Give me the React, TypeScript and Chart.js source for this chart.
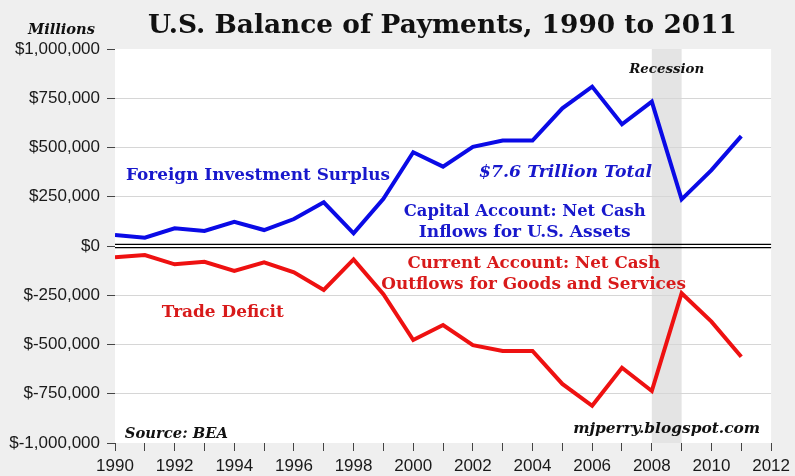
import React, { useEffect, useRef } from "react";
import { Chart, registerables } from "chart.js";

Chart.register(...registerables);

const years = [1990, 1991, 1992, 1993, 1994, 1995, 1996, 1997, 1998, 1999, 2000, 2001, 2002, 2003, 2004, 2005, 2006, 2007, 2008, 2009, 2010, 2011];
const capitalAccount = [56000, 42000, 90000, 76000, 123000, 81000, 137000, 222000, 64000, 240000, 476000, 403000, 503000, 535000, 535000, 699000, 809000, 618000, 733000, 237000, 385000, 558000];
const currentAccount = [-57000, -46000, -93000, -80000, -127000, -83000, -134000, -223000, -68000, -245000, -477000, -401000, -503000, -533000, -533000, -700000, -811000, -618000, -736000, -240000, -384000, -562000];
const recession = [2008, 2009];
const xRange = [1990, 2012];
const yRange = [-1000000, 1000000];
const yStep = 250000;

const SERIF = '"DejaVu Serif", "Liberation Serif", serif';
const SANS = '"Liberation Sans", Arial, sans-serif';

// annotation texts placed in data coordinates
type Note = { text: string; x: number; y: number; align: CanvasTextAlign; width: number; color: string; italic?: boolean };
const notes: Note[] = [
  { text: "Foreign Investment Surplus", x: 1990.37, y: 335000, align: "left", width: 264, color: "#1818cc" },
  { text: "$7.6 Trillion Total", x: 2005.11, y: 350000, align: "center", width: 173, color: "#1818cc", italic: true },
  { text: "Capital Account: Net Cash", x: 2003.74, y: 152000, align: "center", width: 242, color: "#1818cc" },
  { text: "Inflows for U.S. Assets", x: 2003.74, y: 46000, align: "center", width: 212, color: "#1818cc" },
  { text: "Current Account: Net Cash", x: 2004.04, y: -112000, align: "center", width: 253, color: "#d81a1a" },
  { text: "Outflows for Goods and Services", x: 2004.04, y: -218000, align: "center", width: 305, color: "#d81a1a" },
  { text: "Trade Deficit", x: 1991.57, y: -360000, align: "left", width: 122, color: "#d81a1a" },
  { text: "Recession", x: 2008.5, y: 878000, align: "center", width: 75, color: "#111111", italic: true },
  { text: "Source: BEA", x: 1990.33, y: -975000, align: "left", width: 103, color: "#111111", italic: true },
  { text: "mjperry.blogspot.com", x: 2011.63, y: -949000, align: "right", width: 187, color: "#111111", italic: true },
];

function fitFont(ctx: CanvasRenderingContext2D, text: string, style: string, family: string, target: number) {
  ctx.font = `${style} 100px ${family}`;
  const w = ctx.measureText(text).width;
  const size = (100 * target) / w;
  return `${style} ${size.toFixed(2)}px ${family}`;
}

function fmt(v: number) {
  if (v === 0) return "$0";
  const abs = Math.abs(v).toString().replace(/\B(?=(\d{3})+(?!\d))/g, ",");
  return v < 0 ? "$-" + abs : "$" + abs;
}

const decorPlugin = {
  id: "decor",
  beforeDraw(chart: any) {
    const { ctx, chartArea, scales } = chart;
    ctx.save();
    ctx.fillStyle = "#efefef";
    ctx.fillRect(0, 0, chart.width, chart.height);
    ctx.fillStyle = "#ffffff";
    ctx.fillRect(chartArea.left, chartArea.top, chartArea.right - chartArea.left, chartArea.bottom - chartArea.top);
    const x0 = scales.x.getPixelForValue(recession[0]);
    const x1 = scales.x.getPixelForValue(recession[1]);
    ctx.fillStyle = "#e4e4e4";
    ctx.fillRect(x0, chartArea.top, x1 - x0, chartArea.bottom - chartArea.top);
    ctx.restore();
  },
  beforeDatasetsDraw(chart: any) {
    const { ctx, chartArea, scales } = chart;
    const y0 = scales.y.getPixelForValue(0);
    ctx.save();
    ctx.strokeStyle = "#000";
    ctx.lineWidth = 1.3;
    for (const d of [-1.6, 1.6]) {
      ctx.beginPath();
      ctx.moveTo(chartArea.left, y0 + d);
      ctx.lineTo(chartArea.right, y0 + d);
      ctx.stroke();
    }
    ctx.restore();
  },
  afterDraw(chart: any) {
    const { ctx, scales } = chart;
    ctx.save();
    ctx.textBaseline = "alphabetic";
    for (const n of notes) {
      ctx.font = fitFont(ctx, n.text, n.italic ? "italic bold" : "bold", SERIF, n.width);
      ctx.fillStyle = n.color;
      ctx.textAlign = n.align;
      ctx.fillText(n.text, scales.x.getPixelForValue(n.x), scales.y.getPixelForValue(n.y));
    }
    // title
    const title = "U.S. Balance of Payments, 1990 to 2011";
    ctx.font = fitFont(ctx, title, "bold", SERIF, 589);
    ctx.fillStyle = "#111";
    ctx.textAlign = "center";
    ctx.fillText(title, 442.5, 33);
    ctx.font = fitFont(ctx, "Millions", "italic bold", SERIF, 67);
    ctx.textAlign = "left";
    ctx.fillText("Millions", 28, 34);
    ctx.restore();
  },
};

export default function App() {
  const ref = useRef<HTMLCanvasElement>(null);
  useEffect(() => {
    document.body.style.margin = "0";
    const canvas = ref.current!;
    const chart = new Chart(canvas, {
      type: "line",
      data: {
        datasets: [
          {
            label: "Capital Account",
            data: years.map((y, i) => ({ x: y, y: capitalAccount[i] })),
            borderColor: "#0a0ae6",
            borderWidth: 4,
            pointRadius: 0,
            tension: 0,
          },
          {
            label: "Current Account",
            data: years.map((y, i) => ({ x: y, y: currentAccount[i] })),
            borderColor: "#ee1111",
            borderWidth: 4,
            pointRadius: 0,
            tension: 0,
          },
        ],
      },
      options: {
        animation: false,
        responsive: false,
        devicePixelRatio: 1,
        layout: { padding: { top: 49, right: 22, left: 0, bottom: 0 } },
        plugins: { legend: { display: false }, tooltip: { enabled: false }, title: { display: false } },
        scales: {
          x: {
            type: "linear",
            min: xRange[0],
            max: xRange[1],
            afterFit: (s: any) => { s.height = 33; },
            border: { display: false },
            grid: { drawOnChartArea: false, tickLength: 8, tickColor: "#444", drawTicks: true },
            ticks: {
              stepSize: 1,
              autoSkip: false,
              maxRotation: 0,
              padding: 5,
              color: "#1a1a1a",
              font: { family: SANS, size: 17 },
              callback: (v: any) => (Number(v) % 2 === 0 ? String(v) : ""),
            },
          },
          y: {
            min: yRange[0],
            max: yRange[1],
            afterFit: (s: any) => { s.width = 115; },
            border: { display: false },
            grid: {
              tickLength: 8,
              tickColor: "#444",
              color: (c: any) => {
                const v = c.tick ? c.tick.value : 1;
                return v === 0 || Math.abs(v) === 1000000 ? "rgba(0,0,0,0)" : "#d6d6d6";
              },
            },
            ticks: {
              stepSize: yStep,
              padding: 7,
              color: "#1a1a1a",
              font: { family: SANS, size: 17 },
              callback: (v: any) => fmt(Number(v)),
            },
          },
        },
      },
      plugins: [decorPlugin],
    });
    return () => chart.destroy();
  }, []);
  return <canvas ref={ref} width={795} height={476} style={{ display: "block" }} />;
}
